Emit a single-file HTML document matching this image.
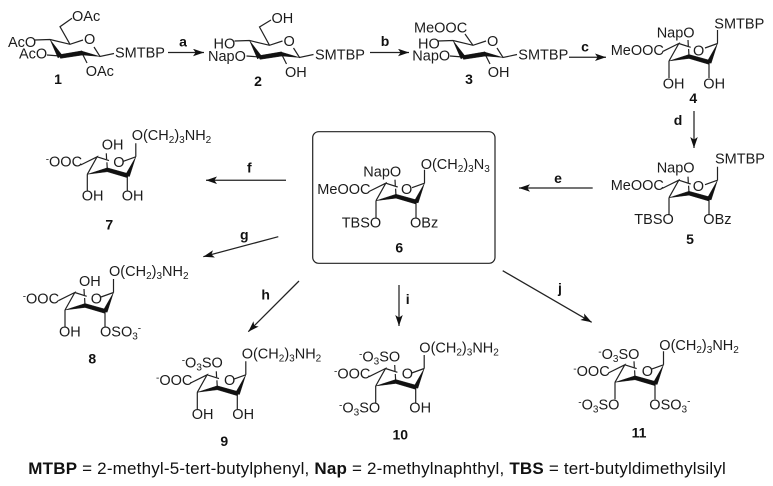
<!DOCTYPE html>
<html>
<head>
<meta charset="utf-8">
<style>
html,body{margin:0;padding:0;background:#fff;}
svg{display:block;}
text{font-family:"Liberation Sans",sans-serif;font-size:14.5px;fill:#1c1c1c;}
.b{font-weight:bold;font-size:14px;text-anchor:middle;fill:#111;}
.s{font-size:10px;}
.l{stroke:#222;stroke-width:1.2;fill:none;}
.f{fill:#111;stroke:#111;stroke-width:.4;stroke-linejoin:round;}
.a{stroke:#222;stroke-width:1.25;fill:none;marker-end:url(#ah);}
</style>
</head>
<body>
<svg width="773" height="486" viewBox="0 0 773 486" xmlns="http://www.w3.org/2000/svg">
<defs>
<marker id="ah" markerUnits="userSpaceOnUse" markerWidth="12" markerHeight="8" refX="11" refY="3.75" orient="auto">
<path d="M0,0 L11,3.75 L0,7.5 L2.6,3.75z" fill="#111"/>
</marker>
<g id="ra">
<path class="l" d="M50,39.5L70,44.3L83,40M94,47L100,56.5L114,53.5M82,53L87,63M50,39.5L35,40M60,56L47,55"/>
<polygon class="f" points="50,39.5 58,58 62,55"/>
<polygon class="f" points="58.5,54.8 82,50.8 83,55 60.5,58.4"/>
<polygon class="f" points="81.5,51 100,56.5 82,55"/>
</g>
<g id="rb">
<path class="l" d="M-6.7,-9.3L9.8,-17.5L0,0M9.8,-17.5L21.7,-13.7M48.5,-17.5L36,-13M19,-21L19.3,-15M19.6,-12L20,-4.5M0,0V17M40,1.5V17M48.5,-17.5V-31"/>
<polygon class="f" points="0,0 20,-6.5 20,-2.5"/>
<polygon class="f" points="20,-6.5 40.5,-0.8 40,3.4 20,-2.5"/>
<polygon class="f" points="37.6,1.5 48.5,-17.5 42.2,2.2"/>
</g>
</defs>

<!-- 1 -->
<use href="#ra"/>
<path class="l" d="M70,44.3L60,26.7L72,18.3"/>
<text x="72" y="21">OAc</text>
<text x="8" y="47">AcO</text>
<text x="19" y="58.5">AcO</text>
<text x="84" y="44">O</text>
<text x="115" y="57.5">SMTBP</text>
<text x="85.7" y="76">OAc</text>
<text class="b" x="58" y="84">1</text>

<path class="a" d="M168,52.5H204"/>
<text class="b" x="183" y="46.5">a</text>

<!-- 2 -->
<use href="#ra" x="199.5" y="1"/>
<path class="l" d="M269.5,45.3L259.5,27L271,20"/>
<text x="271.5" y="23">OH</text>
<text x="213.5" y="48.5">HO</text>
<text x="208" y="61">NapO</text>
<text x="283.5" y="46">O</text>
<text x="315" y="59.5">SMTBP</text>
<text x="285" y="77">OH</text>
<text class="b" x="258" y="86">2</text>

<path class="a" d="M370,52.5H409"/>
<text class="b" x="385" y="46">b</text>

<!-- 3 -->
<use href="#ra" x="403" y="1"/>
<path class="l" d="M473,45.3L465,34"/>
<text x="414" y="32.5">MeOOC</text>
<text x="418" y="48.5">HO</text>
<text x="412.3" y="60.7">NapO</text>
<text x="487" y="46">O</text>
<text x="518.3" y="59.5">SMTBP</text>
<text x="487.7" y="77">OH</text>
<text class="b" x="469" y="84">3</text>

<path class="a" d="M569,57.3H606"/>
<text class="b" x="585" y="51.5">c</text>

<!-- 4 -->
<use href="#rb" x="669" y="61"/>
<text x="656.7" y="37.3">NapO</text>
<text x="714.3" y="28.3">SMTBP</text>
<text x="610.7" y="55">MeOOC</text>
<text x="693" y="55.7">O</text>
<text x="662.7" y="88.7">OH</text>
<text x="703.3" y="88.7">OH</text>
<text class="b" x="693.3" y="103">4</text>

<path class="a" d="M694,111V148"/>
<text class="b" x="678" y="125">d</text>

<!-- 5 -->
<use href="#rb" x="669" y="197.7"/>
<text x="656.7" y="172.7">NapO</text>
<text x="715" y="163.3">SMTBP</text>
<text x="610.7" y="190">MeOOC</text>
<text x="692.7" y="191">O</text>
<text x="634.3" y="224">TBSO</text>
<text x="703.3" y="224">OBz</text>
<text class="b" x="690" y="244">5</text>

<path class="a" d="M592.7,188H519"/>
<text class="b" x="558" y="183">e</text>

<!-- 6 -->
<rect x="312.7" y="131.7" width="182.3" height="131.6" rx="6" class="l"/>
<use href="#rb" x="376" y="200.7"/>
<text x="420.7" y="169">O(CH<tspan class="s" dy="3">2</tspan><tspan dy="-3">)</tspan><tspan class="s" dy="3">3</tspan><tspan dy="-3">N</tspan><tspan class="s" dy="3">3</tspan></text>
<text x="363.3" y="176.7">NapO</text>
<text x="317.3" y="194">MeOOC</text>
<text x="401" y="194">O</text>
<text x="341.7" y="227.3">TBSO</text>
<text x="410" y="227.3">OBz</text>
<text class="b" x="399.3" y="252.3">6</text>

<path class="a" d="M286,180.3H206"/>
<text class="b" x="249.3" y="172.7">f</text>

<!-- 7 -->
<use href="#rb" x="87.3" y="174.3"/>
<text x="131.7" y="140">O(CH<tspan class="s" dy="3">2</tspan><tspan dy="-3">)</tspan><tspan class="s" dy="3">3</tspan><tspan dy="-3">NH</tspan><tspan class="s" dy="3">2</tspan></text>
<text x="101.7" y="149.3">OH</text>
<text x="45.7" y="166.7"><tspan class="s" dy="-4">-</tspan><tspan dy="4">OOC</tspan></text>
<text x="113.3" y="167">O</text>
<text x="81.7" y="200.7">OH</text>
<text x="121.7" y="200.7">OH</text>
<text class="b" x="109.3" y="229.3">7</text>

<path class="a" d="M278.3,236.7L203.3,256.7"/>
<text class="b" x="244.3" y="239.3">g</text>

<!-- 8 -->
<use href="#rb" x="65" y="310"/>
<text x="109" y="276">O(CH<tspan class="s" dy="3">2</tspan><tspan dy="-3">)</tspan><tspan class="s" dy="3">3</tspan><tspan dy="-3">NH</tspan><tspan class="s" dy="3">2</tspan></text>
<text x="79" y="286">OH</text>
<text x="22.7" y="303.3"><tspan class="s" dy="-4">-</tspan><tspan dy="4">OOC</tspan></text>
<text x="90.7" y="303.3">O</text>
<text x="59" y="336.7">OH</text>
<text x="100" y="336.7">OSO<tspan class="s" dy="3">3</tspan><tspan class="s" dy="-8">-</tspan></text>
<text class="b" x="92.3" y="363.3">8</text>

<path class="a" d="M299,281L248.3,331.7"/>
<text class="b" x="265.7" y="299.3">h</text>

<!-- 9 -->
<use href="#rb" x="197.3" y="392.3"/>
<text x="241.7" y="358.3">O(CH<tspan class="s" dy="3">2</tspan><tspan dy="-3">)</tspan><tspan class="s" dy="3">3</tspan><tspan dy="-3">NH</tspan><tspan class="s" dy="3">2</tspan></text>
<text x="181.7" y="367.7"><tspan class="s" dy="-4">-</tspan><tspan dy="4">O</tspan><tspan class="s" dy="3">3</tspan><tspan dy="-3">SO</tspan></text>
<text x="156" y="385"><tspan class="s" dy="-4">-</tspan><tspan dy="4">OOC</tspan></text>
<text x="224" y="385">O</text>
<text x="191.7" y="419">OH</text>
<text x="232.3" y="419">OH</text>
<text class="b" x="224.3" y="446">9</text>

<path class="a" d="M399,285V326"/>
<text class="b" x="407.7" y="304">i</text>

<!-- 10 -->
<use href="#rb" x="375.7" y="386"/>
<text x="419.3" y="352.7">O(CH<tspan class="s" dy="3">2</tspan><tspan dy="-3">)</tspan><tspan class="s" dy="3">3</tspan><tspan dy="-3">NH</tspan><tspan class="s" dy="3">2</tspan></text>
<text x="359" y="361.7"><tspan class="s" dy="-4">-</tspan><tspan dy="4">O</tspan><tspan class="s" dy="3">3</tspan><tspan dy="-3">SO</tspan></text>
<text x="334" y="378.3"><tspan class="s" dy="-4">-</tspan><tspan dy="4">OOC</tspan></text>
<text x="401.7" y="378.3">O</text>
<text x="339" y="412.3"><tspan class="s" dy="-4">-</tspan><tspan dy="4">O</tspan><tspan class="s" dy="3">3</tspan><tspan dy="-3">SO</tspan></text>
<text x="409.3" y="412.3">OH</text>
<text class="b" x="400.3" y="439.3">10</text>

<path class="a" d="M502.7,270.7L591.7,322.3"/>
<text class="b" x="560" y="293">j</text>

<!-- 11 -->
<use href="#rb" x="615" y="382.3"/>
<text x="659.3" y="350">O(CH<tspan class="s" dy="3">2</tspan><tspan dy="-3">)</tspan><tspan class="s" dy="3">3</tspan><tspan dy="-3">NH</tspan><tspan class="s" dy="3">2</tspan></text>
<text x="598.3" y="359"><tspan class="s" dy="-4">-</tspan><tspan dy="4">O</tspan><tspan class="s" dy="3">3</tspan><tspan dy="-3">SO</tspan></text>
<text x="573.3" y="376"><tspan class="s" dy="-4">-</tspan><tspan dy="4">OOC</tspan></text>
<text x="641.7" y="376">O</text>
<text x="578.3" y="409.7"><tspan class="s" dy="-4">-</tspan><tspan dy="4">O</tspan><tspan class="s" dy="3">3</tspan><tspan dy="-3">SO</tspan></text>
<text x="649.3" y="409.7">OSO<tspan class="s" dy="3">3</tspan><tspan class="s" dy="-8">-</tspan></text>
<text class="b" x="639" y="437.3">11</text>

<!-- caption -->
<text x="28.3" y="474" style="font-size:17px;fill:#111" textLength="697.5" lengthAdjust="spacing"><tspan font-weight="bold">MTBP</tspan> = 2-methyl-5-tert-butylphenyl, <tspan font-weight="bold">Nap</tspan> = 2-methylnaphthyl, <tspan font-weight="bold">TBS</tspan> = tert-butyldimethylsilyl</text>
</svg>
</body>
</html>
